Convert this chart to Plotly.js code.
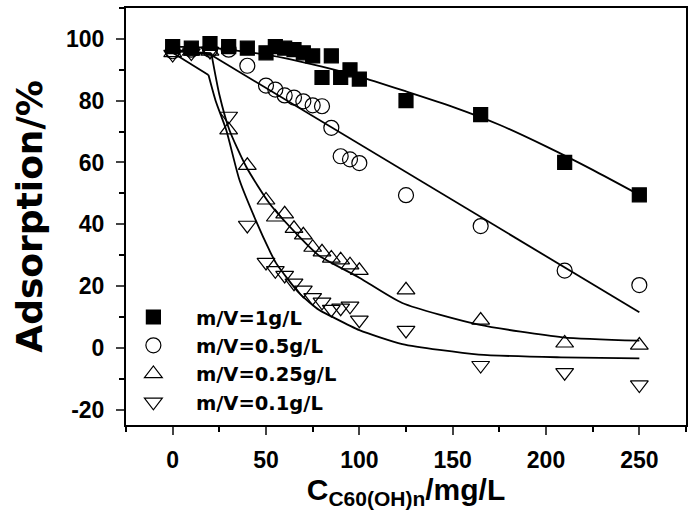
<!DOCTYPE html>
<html>
<head>
<meta charset="utf-8">
<script src="https://cdn.plot.ly/plotly-3.0.1.min.js"></script>
<style>html,body{margin:0;padding:0;background:#fff;}#chart{width:694px;height:522px;}</style>
</head>
<body>
<div id="chart"></div>
<script>
// ---- data ----
const seriesNames = ["m/V=1g/L", "m/V=0.5g/L", "m/V=0.25g/L", "m/V=0.1g/L"];
const xConc = [0, 10, 20, 30, 40, 50, 55, 60, 65, 70, 75, 80, 85, 90, 95, 100, 125, 165, 210, 250];
const y1g   = [97.5, 97, 98.5, 97.5, 97, 95.5, 97.5, 97, 96.5, 95.5, 94.5, 87.5, 94.5, 87.5, 90, 87, 80, 75.5, 60, 49.5];
const y05g  = [96, 96.5, 96.5, 96.5, 91.3, 84.9, 83.6, 81.7, 81, 79.8, 78.5, 78.2, 71.2, 62, 61, 59.8, 49.4, 39.4, 25, 20.3];
const y025g = [95.5, 96, 96, 70.5, 59, 47.8, 42.3, 43.3, 38.6, 36.5, 32.5, 31, 29, 28.4, 26.8, 25, 18.7, 8.9, 1.5, 0.8];
const y01g  = [95, 95.5, 96, 75, 39.7, 27.7, 25, 23.5, 21, 18.7, 16.3, 14.8, 12.5, 12.9, 13.5, 9, 5.7, -5.7, -8, -12];

// plateau segments of the fits (0-20 mg/L)
const plat1x = [0, 20];   const plat1y = [97.5, 97.2];
const plat05x = [0, 20];  const plat05y = [96.5, 95];
const plat025x = [0, 20.7]; const plat025y = [96, 95.4];
const plat01x = [0, 19.2];  const plat01y = [95.5, 88.3];

// fitted curves beyond the plateau
const fit1x  = [20, 40, 60, 80, 100, 125, 150, 175, 200, 225, 250];
const fit1y  = [97.2, 95.8, 93.8, 91, 87.8, 83, 78, 72.2, 65.2, 57.6, 49.5];
const fit05x = [20, 250];
const fit05y = [95, 11.5];
const fit025x = [20.7, 25, 30.4, 39.4, 51.8, 67.8, 78.5, 100, 123, 164, 209, 250];
const fit025y = [95.4, 82, 70.5, 58.6, 46.8, 36, 29.8, 22.7, 14.5, 7.5, 3.4, 2.3];
const fit01x = [19.2, 23, 28.7, 35.8, 44.7, 51.8, 55.4, 67.8, 78.5, 85.5, 100, 123, 164, 208, 250];
const fit01y = [88.3, 80, 70.5, 54.3, 41, 31.6, 27.4, 17.7, 12.2, 10, 5.7, 1.2, -2.2, -3.1, -3.4];

const xTickVals = [0, 50, 100, 150, 200, 250];
const xTickText = ["0", "50", "100", "150", "200", "250"];
const yTickVals = [-20, 0, 20, 40, 60, 80, 100];
const yTickText = ["-20", "0", "20", "40", "60", "80", "100"];

const FONT = "'Liberation Sans', Arial, sans-serif";
const WIDE = "'DejaVu Sans', 'Liberation Sans', sans-serif";

function pts(y, name, symbol, size) {
  return {
    x: xConc, y: y, name: name, type: 'scatter', mode: 'markers',
    marker: {symbol: symbol, size: size, color: '#000', line: {color: '#000', width: 1.2}}
  };
}
function fit(x, y, shape) {
  return {x: x, y: y, type: 'scatter', mode: 'lines', showlegend: false,
          hoverinfo: 'skip', line: {color: '#000', width: 1.8, shape: shape || 'linear', smoothing: 0.6}};
}

const data = [
  fit(plat1x, plat1y), fit(plat05x, plat05y), fit(plat025x, plat025y), fit(plat01x, plat01y),
  fit(fit1x, fit1y, 'spline'), fit(fit05x, fit05y), fit(fit025x, fit025y, 'spline'), fit(fit01x, fit01y, 'spline'),
  pts(y1g, seriesNames[0], 'square', 14),
  pts(y05g, seriesNames[1], 'circle-open', 15),
  pts(y025g, seriesNames[2], 'triangle-up-open', 15.5),
  pts(y01g, seriesNames[3], 'triangle-down-open', 15.5)
];

const layout = {
  width: 694, height: 522,
  margin: {l: 126, r: 8, t: 8, b: 97},
  paper_bgcolor: '#fff', plot_bgcolor: '#fff',
  font: {family: FONT, color: '#000'},
  showlegend: true,
  legend: {
    x: -0.027, y: 0.305, xanchor: 'left', yanchor: 'top',
    bgcolor: 'rgba(0,0,0,0)', borderwidth: 0,
    font: {family: WIDE, size: 19.5, weight: 'bold', color: '#000'},
    itemwidth: 75
  },
  xaxis: {
    range: [-25, 275], tickvals: xTickVals, ticktext: xTickText, ticks: 'outside', ticklen: 8, tickwidth: 2,
    ticklabelstandoff: 5,
    minor: {dtick: 25, tick0: -25, ticks: 'outside', ticklen: 5, tickwidth: 2, tickcolor: '#000'},
    showline: true, linewidth: 2, linecolor: '#000', mirror: true,
    showgrid: false, zeroline: false,
    tickfont: {family: FONT, size: 23, weight: 'bold'},
    title: {text: 'C<sub>C60(OH)n</sub>/mg/L', font: {family: FONT, size: 30, weight: 'bold'}, standoff: 5}
  },
  yaxis: {
    range: [-25, 110], tickvals: yTickVals, ticktext: yTickText, ticks: 'outside', ticklen: 8, tickwidth: 2,
    ticklabelstandoff: 7,
    minor: {dtick: 10, tick0: 0, ticks: 'outside', ticklen: 5, tickwidth: 2, tickcolor: '#000'},
    showline: true, linewidth: 2, linecolor: '#000', mirror: true,
    showgrid: false, zeroline: false,
    tickfont: {family: FONT, size: 23, weight: 'bold'},
    title: {text: 'Adsorption/%', font: {family: WIDE, size: 36, weight: 'bold'}, standoff: 12}
  }
};

Plotly.newPlot('chart', data, layout, {displayModeBar: false, staticPlot: true});
</script>
</body>
</html>
